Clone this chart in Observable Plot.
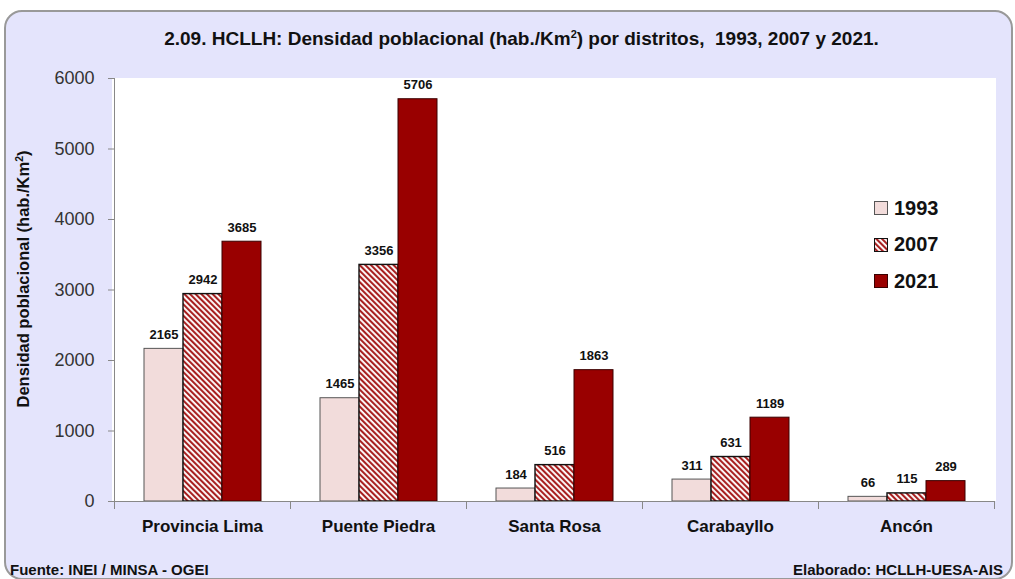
<!DOCTYPE html>
<html>
<head>
<meta charset="utf-8">
<script src="https://cdn.jsdelivr.net/npm/d3@7"></script>
<script src="https://cdn.jsdelivr.net/npm/@observablehq/plot@0.6"></script>
<style>
  html, body { margin: 0; padding: 0; background: #ffffff; }
  #wrap { position: relative; width: 1015px; height: 579px; overflow: hidden; font-family: "Liberation Sans", Arial, sans-serif; }
  #panel { position: absolute; left: 4px; top: 10px; width: 1005px; height: 566px; border: 2px solid #999; border-radius: 18px; background: #e4e4fc; }
  #plotbg { position: absolute; left: 112px; top: 78px; width: 884px; height: 423px; background: #ffffff; }
  #title { position: absolute; left: 0; width: 1043px; top: 28px; text-align: center; font-family: "Liberation Sans Narrow", "Liberation Sans", sans-serif; font-weight: bold; font-size: 19px; color: #111; }
  #title sup { font-size: 11px; }
  #src { position: absolute; left: 10px; top: 561px; font-family: "Liberation Sans Narrow", "Liberation Sans", sans-serif; font-weight: bold; font-size: 15px; color: #111; }
  #elab { position: absolute; right: 12px; top: 561px; font-family: "Liberation Sans Narrow", "Liberation Sans", sans-serif; font-weight: bold; font-size: 15px; color: #111; }
  #chart { position: absolute; left: 0; top: 0; }
  #chart svg { background: transparent; overflow: visible; }
  #legend { position: absolute; left: 874px; top: 190px; }
  .lrow { display: flex; align-items: center; height: 36.5px; font-weight: bold; font-size: 20px; color: #111; }
  .lrow svg { margin-right: 6px; }
  #ylab { position: absolute; left: 23px; top: 279px; transform: translate(-50%, -50%) rotate(-90deg); white-space: nowrap; font-weight: bold; font-size: 16.5px; color: #111; }
  #ylab sup { font-size: 10.5px; }
</style>
</head>
<body>
<svg width="0" height="0" style="position:absolute">
  <defs>
    <pattern id="stripes" patternUnits="userSpaceOnUse" width="4" height="4" patternTransform="rotate(-45)">
      <rect x="0" y="0" width="4" height="4" fill="#ffffff"></rect>
      <rect x="0" y="0" width="2.1" height="4" fill="#a82020"></rect>
    </pattern>
  </defs>
</svg>
<div id="wrap">
  <div id="panel"></div>
  <div id="plotbg"></div>
  <div id="title">2.09. HCLLH: Densidad poblacional (hab./Km<sup>2</sup>) por distritos,&nbsp; 1993, 2007 y 2021.</div>
  <div id="chart"></div>
  <div id="ylab">Densidad poblacional (hab./Km<sup>2</sup>)</div>
  <div id="legend"></div>
  <div id="src">Fuente: INEI / MINSA - OGEI</div>
  <div id="elab">Elaborado: HCLLH-UESA-AIS</div>
</div>
<script>
const districts = ["Provincia Lima", "Puente Piedra", "Santa Rosa", "Carabayllo", "Ancón"];
const years = ["1993", "2007", "2021"];
const v1993 = [2165, 1465, 184, 311, 66];
const v2007 = [2942, 3356, 516, 631, 115];
const v2021 = [3685, 5706, 1863, 1189, 289];
const yTicks = [0, 1000, 2000, 3000, 4000, 5000, 6000];

const series = [v1993, v2007, v2021];
const fills = ["#f2dcdb", "url(#stripes)", "#990000"];
const strokes = ["#555555", "#111111", "#3a0000"];
const table = districts.flatMap((d, i) => years.map((yr, j) => ({district: d, year: yr, value: series[j][i]})));

const barMarks = years.map((yr, j) => Plot.barY(table, {
  filter: d => d.year === yr,
  fx: "district", x: "year", y: "value",
  fill: fills[j], stroke: strokes[j], strokeWidth: j === 1 ? 1.4 : 1
}));

const chart = Plot.plot({
  width: 1015,
  height: 579,
  marginLeft: 112,
  marginRight: 19,
  marginTop: 78,
  marginBottom: 78,
  style: {background: "transparent", fontFamily: "Liberation Sans, Arial, sans-serif", color: "#111"},
  fx: {domain: districts, padding: 0, label: null},
  x: {domain: years, paddingInner: 0, paddingOuter: 0.738, axis: null},
  y: {domain: [0, 6000], axis: null},
  marks: [
    ...barMarks,
    Plot.text(table, {fx: "district", x: "year", y: "value", text: d => String(d.value), lineAnchor: "bottom", dy: -10, fontWeight: "bold", fontSize: 13, fill: "#111"}),
    Plot.axisY({ticks: yTicks, tickSize: 6, tickPadding: 14, tickFormat: d => String(d), label: null, fontSize: 18, fill: "#333", stroke: "#888"}),
    Plot.axisFx({anchor: "bottom", tickSize: 0, tickPadding: 18, label: null, fontSize: 17, fontWeight: "bold", fill: "#111"}),
    Plot.frame({anchor: "left", facetAnchor: "left", stroke: "#888"}),
    Plot.frame({anchor: "bottom", stroke: "#888"}),
    Plot.frame({anchor: "left", insetTop: 423, insetBottom: -7, stroke: "#888"}),
    Plot.frame({anchor: "right", insetTop: 423, insetBottom: -7, stroke: "#888"})
  ]
});
document.getElementById("chart").appendChild(chart);

const legend = document.getElementById("legend");
years.forEach((yr, j) => {
  const row = document.createElement("div");
  row.className = "lrow";
  row.innerHTML = `<svg width="14" height="14"><rect x="0.5" y="0.5" width="13" height="13" fill="${fills[j]}" stroke="${strokes[j]}"></rect></svg><span>${yr}</span>`;
  legend.appendChild(row);
});
</script>
</body>
</html>
